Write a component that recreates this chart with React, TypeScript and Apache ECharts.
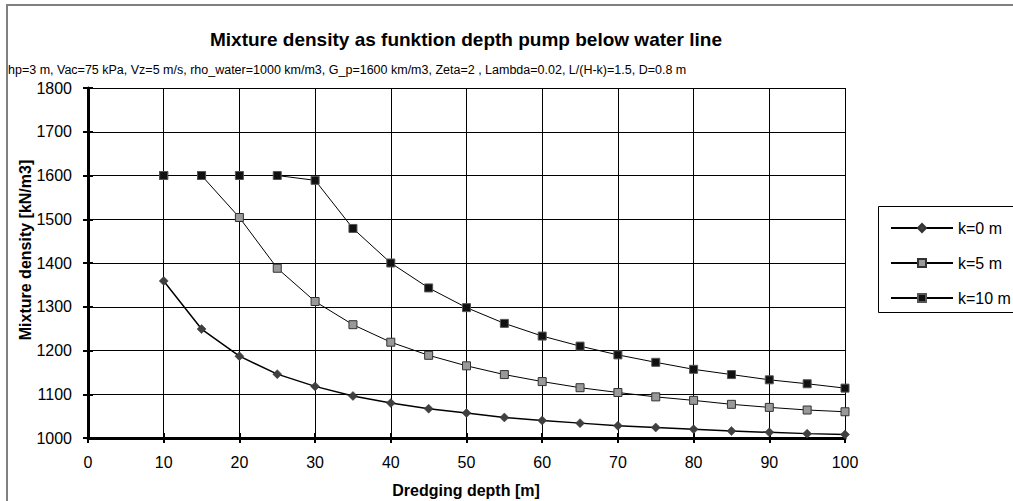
import React, { useEffect, useRef } from "react";
import * as echarts from "echarts";

const depths = [10, 15, 20, 25, 30, 35, 40, 45, 50, 55, 60, 65, 70, 75, 80, 85, 90, 95, 100];
const k0 = [1359, 1249, 1187, 1146, 1118, 1096, 1080, 1067, 1057, 1047, 1040, 1034, 1028, 1024, 1020, 1016, 1013, 1010, 1008];
const k5 = [1600, 1600, 1504, 1388, 1312, 1259, 1219, 1189, 1165, 1145, 1129, 1115, 1104, 1094, 1086, 1077, 1070, 1064, 1060];
const k10 = [1600, 1600, 1600, 1600, 1589, 1479, 1400, 1343, 1298, 1262, 1233, 1210, 1190, 1173, 1157, 1145, 1133, 1124, 1114];
const seriesNames = ["k=0 m", "k=5 m", "k=10 m"];

const titleText = "Mixture density as funktion depth pump below water line";
const subtitleText =
  "hp=3 m, Vac=75 kPa, Vz=5 m/s, rho_water=1000 km/m3, G_p=1600 km/m3, Zeta=2 , Lambda=0.02, L/(H-k)=1.5, D=0.8 m";
const xName = "Dredging depth [m]";
const yName = "Mixture density [kN/m3]";

const FONT = "'Liberation Sans', Arial, sans-serif";

function pairs(vals: number[]) {
  return depths.map((d, i) => [d, vals[i]]);
}

export default function App() {
  const ref = useRef<HTMLDivElement>(null);
  useEffect(() => {
    if (!ref.current) return;
    const chart = echarts.init(ref.current, undefined, { renderer: "svg" });
    const baseX = {
      type: "value" as const,
      min: 0,
      max: 100,
      interval: 10,
      position: "bottom" as const,
    };
    const baseY = {
      type: "value" as const,
      min: 1000,
      max: 1800,
      interval: 100,
      position: "left" as const,
    };
    const plain = (v: number) => String(v);
    chart.setOption({
      animation: false,
      backgroundColor: "#fff",
      textStyle: { fontFamily: FONT },
      grid: { left: 88, top: 88, width: 757, height: 350, containLabel: false },
      xAxis: [
        {
          ...baseX,
          axisLine: { show: true, onZero: false, lineStyle: { color: "#000", width: 3 } },
          axisTick: { show: true, length: 5, lineStyle: { color: "#000", width: 2 } },
          axisLabel: { fontSize: 16, color: "#000", margin: 16, fontFamily: FONT, formatter: plain },
          splitLine: { show: true, lineStyle: { color: "#000", width: 1 } },
        },
        {
          ...baseX,
          axisLine: { show: false, onZero: false },
          axisTick: { show: true, inside: true, length: 5, lineStyle: { color: "#000", width: 2 } },
          axisLabel: { show: false },
          splitLine: { show: false },
        },
      ],
      yAxis: [
        {
          ...baseY,
          axisLine: { show: true, onZero: false, lineStyle: { color: "#000", width: 3 } },
          axisTick: { show: true, length: 5, lineStyle: { color: "#000", width: 2 } },
          axisLabel: { fontSize: 16, color: "#000", margin: 16, fontFamily: FONT, formatter: plain },
          splitLine: { show: true, lineStyle: { color: "#000", width: 1 } },
        },
        {
          ...baseY,
          axisLine: { show: false, onZero: false },
          axisTick: { show: true, inside: true, length: 5, lineStyle: { color: "#000", width: 2 } },
          axisLabel: { show: false },
          splitLine: { show: false },
        },
      ],
      legend: {
        orient: "vertical",
        left: 890,
        top: 220,
        padding: 0,
        itemWidth: 62,
        itemHeight: 10,
        itemGap: 19,
        textStyle: { fontSize: 16, color: "#000", fontFamily: FONT },
        data: seriesNames,
      },
      graphic: [
        {
          type: "rect",
          silent: true,
          shape: { x: 7, y: 5, width: 1100, height: 600 },
          style: { fill: "none", stroke: "#808080", lineWidth: 2 },
          z: -10,
        },
        {
          type: "rect",
          silent: true,
          shape: { x: 878.5, y: 206.5, width: 200, height: 106 },
          style: { fill: "#fff", stroke: "#000", lineWidth: 1 },
          z: -5,
        },
        {
          type: "text",
          x: 466,
          y: 39,
          style: {
            text: titleText,
            font: `bold 19px ${FONT}`,
            fill: "#000",
            align: "center",
            verticalAlign: "middle",
          },
        },
        {
          type: "text",
          x: 8,
          y: 70,
          style: {
            text: subtitleText,
            font: `12.5px ${FONT}`,
            fill: "#000",
            align: "left",
            verticalAlign: "middle",
          },
        },
        {
          type: "text",
          x: 466,
          y: 490,
          style: {
            text: xName,
            font: `bold 16px ${FONT}`,
            fill: "#000",
            align: "center",
            verticalAlign: "middle",
          },
        },
        {
          type: "text",
          x: 25,
          y: 250,
          rotation: Math.PI / 2,
          style: {
            text: yName,
            font: `bold 16px ${FONT}`,
            fill: "#000",
            align: "center",
            verticalAlign: "middle",
          },
        },
      ],
      series: [
        {
          name: seriesNames[0],
          type: "line",
          data: pairs(k0),
          symbol: "diamond",
          symbolSize: 9,
          lineStyle: { color: "#000", width: 1.5 },
          itemStyle: { color: "#404040", borderColor: "#333", borderWidth: 0.5 },
          z: 3,
        },
        {
          name: seriesNames[1],
          type: "line",
          data: pairs(k5),
          symbol: "rect",
          symbolSize: 8,
          lineStyle: { color: "#000", width: 1 },
          itemStyle: { color: "#999", borderColor: "#333", borderWidth: 1 },
          z: 4,
        },
        {
          name: seriesNames[2],
          type: "line",
          data: pairs(k10),
          symbol: "rect",
          symbolSize: 8,
          lineStyle: { color: "#000", width: 1 },
          itemStyle: { color: "#111", borderColor: "#555", borderWidth: 1 },
          z: 5,
        },
      ],
    });
    return () => chart.dispose();
  }, []);
  return (
    <div
      ref={ref}
      style={{ position: "absolute", left: 0, top: 0, width: 1013, height: 501, background: "#fff" }}
    />
  );
}
